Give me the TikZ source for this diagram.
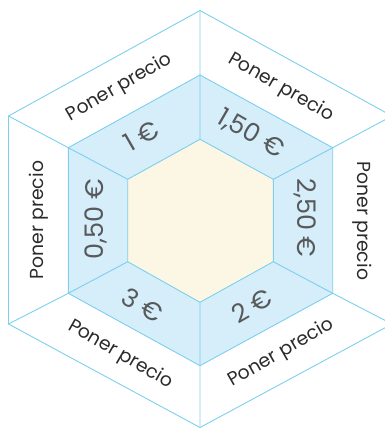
\documentclass[tikz,border=0pt]{standalone}
\usepackage{fontspec}
\setmainfont{Poppins}
\definecolor{edge}{HTML}{7CCFEE}
\definecolor{ringfill}{HTML}{D5EEFA}
\definecolor{corefill}{HTML}{FCF6E4}
\definecolor{labtext}{HTML}{2B2B2B}
\definecolor{pricetext}{HTML}{58595B}
\begin{document}
\begin{tikzpicture}[x=1pt,y=-1pt,
  hexline/.style={draw=edge,line width=0.9pt,line join=miter},
  outerlab/.style={text=labtext,font=\fontsize{18.8}{19}\selectfont,inner sep=0pt},
  pricelab/.style={text=pricetext,font=\fontsize{25.5}{26}\selectfont,inner sep=0pt}]
\useasboundingbox (0,0) rectangle (385,428);
\clip (0,0) rectangle (385,428);
% outer vertices
\coordinate (oT) at (200,10.5);
\coordinate (oUR) at (392,116);
\coordinate (oLR) at (392,324);
\coordinate (oB) at (200,427.5);
\coordinate (oLL) at (8.5,324);
\coordinate (oUL) at (8.5,116);
% middle vertices
\coordinate (mT) at (200,75);
\coordinate (mUR) at (332.7,147.7);
\coordinate (mLR) at (332.7,293.3);
\coordinate (mB) at (200,365.7);
\coordinate (mLL) at (68.3,293.3);
\coordinate (mUL) at (68.3,147.7);
% inner vertices
\coordinate (iT) at (200,139.3);
\coordinate (iUR) at (273.3,179.3);
\coordinate (iLR) at (273.3,261.7);
\coordinate (iB) at (200,302.3);
\coordinate (iLL) at (127.7,261.7);
\coordinate (iUL) at (127.7,179.3);
% fills
\fill[ringfill] (mT) -- (mUR) -- (mLR) -- (mB) -- (mLL) -- (mUL) -- cycle;
\fill[corefill] (iT) -- (iUR) -- (iLR) -- (iB) -- (iLL) -- (iUL) -- cycle;
% outlines
\draw[hexline] (oT) -- (oUR) -- (oLR) -- (oB) -- (oLL) -- (oUL) -- cycle;
\draw[hexline] (mT) -- (mUR) -- (mLR) -- (mB) -- (mLL) -- (mUL) -- cycle;
\draw[hexline] (iT) -- (iUR) -- (iLR) -- (iB) -- (iLL) -- (iUL) -- cycle;
% spokes
\draw[hexline] (oT) -- (mT) (oUR) -- (mUR) (oLR) -- (mLR)
  (oB) -- (mB) (oLL) -- (mLL) (oUL) -- (mUL);
\draw[hexline] (mT) -- (iT) (mUR) -- (iUR) (mLR) -- (iLR)
  (mB) -- (iB) (mLL) -- (iLL) (mUL) -- (iUL);
% outer labels
\node[outerlab,rotate=30] (tUL) at (119.5,87.5) {Poner precio};
\node[outerlab,rotate=-30] (tUR) at (281,87.5) {Poner precio};
\node[outerlab,rotate=-90] (tR) at (362.5,221) {Poner precio};
\node[outerlab,rotate=90] (tL) at (38.5,220) {Poner precio};
\node[outerlab,rotate=30] (tLR) at (281,353) {Poner precio};
\node[outerlab,rotate=-30] (tLL) at (120.5,354.5) {Poner precio};
% price labels
\node[pricelab,rotate=30] (pUL) at (141,136) {1 €};
\node[pricelab,rotate=-30] (pUR) at (250.5,134) {1,50 €};
\node[pricelab,rotate=-90] (pR) at (305,218) {2,50 €};
\node[pricelab,rotate=90] (pL) at (96,219) {0,50 €};
\node[pricelab,rotate=30] (pLR) at (252,306) {2 €};
\node[pricelab,rotate=-30] (pLL) at (143,305) {3 €};
\end{tikzpicture}
\end{document}
